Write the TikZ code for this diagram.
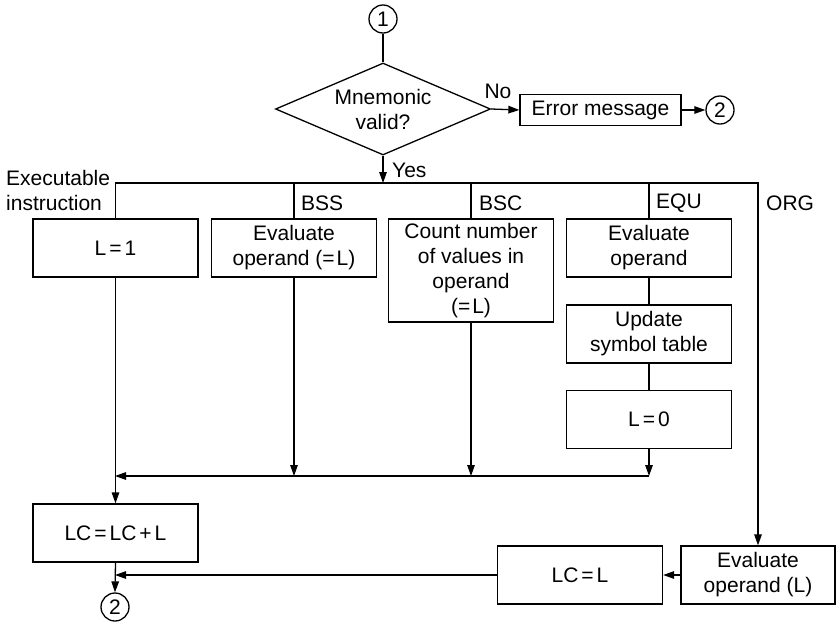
\documentclass[tikz,border=0pt]{standalone}
\usepackage{fontspec}
\setmainfont{Liberation Sans}
\usetikzlibrary{arrows.meta,shapes.geometric}
\newcommand{\eqs}{\kern3pt=\kern3pt}
\newcommand{\eql}{=\kern2pt}
\newcommand{\pls}{\kern3pt+\kern3pt}
\tikzset{
  every node/.style={font=\fontsize{21}{25}\selectfont},
  box/.style={draw, line width=1.3pt, minimum width=165pt, minimum height=58pt, inner sep=0pt, align=center},
  conn/.style={draw, circle, line width=1.3pt, minimum size=28pt, inner sep=0pt},
  ln/.style={line width=1.3pt},
  arr/.style={line width=1.3pt, -{Triangle[length=11pt,width=7.5pt]}},
  lbl/.style={inner sep=0pt, align=left}
}
\begin{document}
\begin{tikzpicture}[x=1pt,y=-1pt]
\useasboundingbox (0,0) rectangle (837,622);
% top
\node[conn] (c1) at (383,19) {1};
\node[draw, diamond, line width=1.3pt, minimum width=215pt, minimum height=92pt, aspect=2.34, inner sep=0pt, align=center] (dia) at (383,109) {Mnemonic\\valid?};
\node[box, minimum width=161pt, minimum height=31pt] (err) at (600.5,110) {Error message};
\node[conn] (c2a) at (720,110) {2};
\coordinate (bus) at (383,183);
\coordinate (merge) at (115,476);
% boxes
\node[box] (l1) at (115.5,248) {L\eqs 1};
\node[box] (bss) at (294,248) {Evaluate\\operand (\eql L)};
\node[box, minimum height=103pt] (bsc) at (471,270.5) {Count number\\of values in\\operand\\(\eql L)};
\node[box] (eq1) at (649,248) {Evaluate\\operand};
\node[box] (eq2) at (649,334) {Update\\symbol table};
\node[box] (eq3) at (649,419.5) {L\eqs 0};
\node[box] (lc) at (115.5,533) {LC\eqs LC\pls L};
\node[box] (lcl) at (580,575) {LC\eqs L};
\node[box, minimum width=154pt] (evl) at (758,575) {Evaluate\\operand (L)};
\node[conn] (c2b) at (115,607) {2};
% connectors
\draw[ln] (c1) -- (dia.north);
\draw[arr] (dia.east) -- (err.west);
\draw[arr] (err.east) -- (c2a.west);
\draw[arr] (dia.south) -- (bus);
\draw[arr] (l1.north) |- (bus) -| (evl.north);
\draw[ln] (bss.north) -- (bss.north |- bus);
\draw[ln] (bsc.north) -- (bsc.north |- bus);
\draw[ln] (eq1.north) -- (eq1.north |- bus);
\draw[ln] (eq1) -- (eq2);
\draw[ln] (eq2) -- (eq3);
\draw[arr] (bss.south) -- (bss.south |- merge);
\draw[arr] (bsc.south) -- (bsc.south |- merge);
\draw[arr] (eq3.south) -- (eq3.south |- merge);
\draw[arr] (eq3.south |- merge) -- (merge);
\draw[arr] (l1.south) -- (lc.north);
\draw[arr] (lc.south) -- (c2b.north);
\draw[arr] (evl.west) -- (lcl.east);
\draw[arr] (lcl.west) -- (lcl.west -| c2b);
% labels
\node[lbl, anchor=south] (no) at (498,99) {No};
\node[lbl, anchor=west] (yes) at (392,170) {Yes};
\node[lbl, anchor=west] (exe) at (6,190) {Executable\\instruction};
\node[lbl, anchor=west] (lbss) at (301,203) {BSS};
\node[lbl, anchor=west] (lbsc) at (479,203) {BSC};
\node[lbl, anchor=west] (lequ) at (656,203) {EQU};
\node[lbl, anchor=west] (lorg) at (766,203) {ORG};
\end{tikzpicture}
\end{document}
